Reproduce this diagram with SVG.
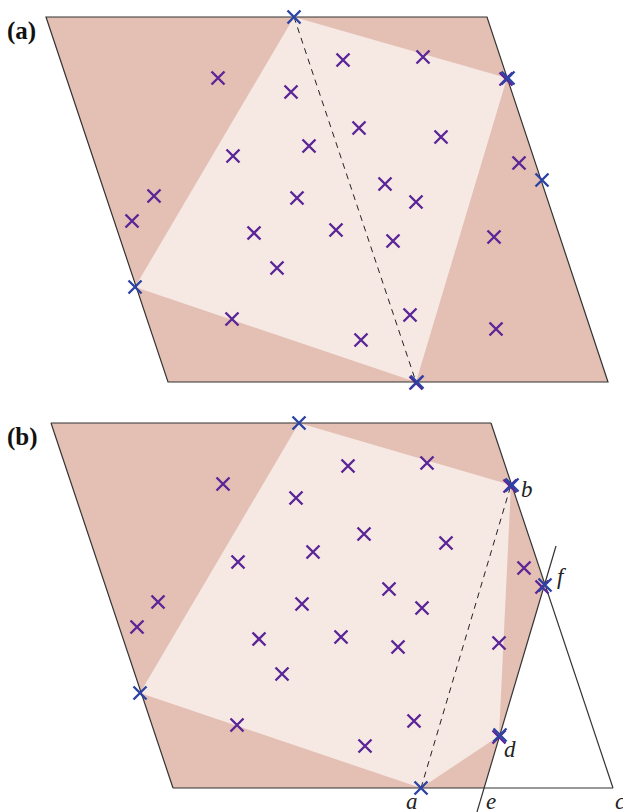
<svg xmlns="http://www.w3.org/2000/svg" xmlns:xlink="http://www.w3.org/1999/xlink" width="623" height="812" viewBox="0 0 623 812">
<style>
.dark{fill:#e3bfb4;stroke:none}
.light{fill:#f6e8e3;stroke:none}
.edge{fill:none;stroke:#333;stroke-width:1.2}
.dash{fill:none;stroke:#222;stroke-width:1;stroke-dasharray:6,5}
.p{stroke:#5a2597;stroke-width:2.4;fill:none}
.b{stroke:#2c43a3;stroke-width:2.4;fill:none}
.lbl{font-family:"Liberation Serif",serif;font-weight:bold;font-size:25px;fill:#111}
.var{font-family:"Liberation Serif",serif;font-style:italic;font-size:23px;fill:#222}
</style>
<defs>
<path id="x" d="M-6.5,-6.5L6.5,6.5M-6.5,6.5L6.5,-6.5"/>
</defs>
<rect width="623" height="812" fill="#fff"/>

<g id="panel-a">
<polygon class="dark" points="46,17 487,17 608,382 168,382"/>
<polygon class="light" points="294,17 507,78 416,382 135,287"/>
<polygon class="edge" points="46,17 487,17 608,382 168,382"/>
<line class="dash" x1="294" y1="17" x2="416" y2="382"/>
<text class="lbl" x="7" y="39">(a)</text>
<g id="points-a">
<use xlink:href="#x" class="p" x="218" y="78"/>
<use xlink:href="#x" class="p" x="291" y="92"/>
<use xlink:href="#x" class="p" x="343" y="60"/>
<use xlink:href="#x" class="p" x="423" y="57"/>
<use xlink:href="#x" class="p" x="359" y="128"/>
<use xlink:href="#x" class="p" x="441" y="137"/>
<use xlink:href="#x" class="p" x="309" y="146"/>
<use xlink:href="#x" class="p" x="233" y="156"/>
<use xlink:href="#x" class="p" x="519" y="163"/>
<use xlink:href="#x" class="p" x="385" y="184"/>
<use xlink:href="#x" class="p" x="416" y="202"/>
<use xlink:href="#x" class="p" x="154" y="196"/>
<use xlink:href="#x" class="p" x="132" y="221"/>
<use xlink:href="#x" class="p" x="297" y="198"/>
<use xlink:href="#x" class="p" x="336" y="230"/>
<use xlink:href="#x" class="p" x="254" y="233"/>
<use xlink:href="#x" class="p" x="393" y="241"/>
<use xlink:href="#x" class="p" x="494" y="237"/>
<use xlink:href="#x" class="p" x="277" y="268"/>
<use xlink:href="#x" class="p" x="410" y="315"/>
<use xlink:href="#x" class="p" x="232" y="319"/>
<use xlink:href="#x" class="p" x="361" y="340"/>
<use xlink:href="#x" class="p" x="496" y="329"/>
<use xlink:href="#x" class="p" x="506" y="79"/>
<use xlink:href="#x" class="p" x="416" y="383"/>
<use xlink:href="#x" class="b" x="294" y="17"/>
<use xlink:href="#x" class="b" x="508" y="78"/>
<use xlink:href="#x" class="b" x="542" y="180"/>
<use xlink:href="#x" class="b" x="135" y="287"/>
<use xlink:href="#x" class="b" x="417" y="382"/>
</g>
</g>

<g id="panel-b">
<polygon class="dark" points="51,423 491,423 544.5,584 484,788 173,788"/>
<polygon class="light" points="299,423 511,485 499,736 421,788 140,693"/>
<g id="connectors">
<line class="edge" x1="51" y1="423" x2="491" y2="423"/>
<line class="edge" x1="51" y1="423" x2="173" y2="788"/>
<line class="edge" x1="491" y1="423" x2="613" y2="788"/>
<line class="edge" x1="173" y1="788" x2="613" y2="788"/>
<line class="edge" x1="556" y1="546" x2="477" y2="812"/>
<line class="dash" x1="421" y1="788" x2="511" y2="485"/>
</g>
<text class="lbl" x="7" y="445">(b)</text>
<g id="points-b">
<use xlink:href="#x" class="p" x="223" y="484"/>
<use xlink:href="#x" class="p" x="296" y="498"/>
<use xlink:href="#x" class="p" x="348" y="466"/>
<use xlink:href="#x" class="p" x="427" y="463"/>
<use xlink:href="#x" class="p" x="364" y="534"/>
<use xlink:href="#x" class="p" x="446" y="543"/>
<use xlink:href="#x" class="p" x="313" y="552"/>
<use xlink:href="#x" class="p" x="238" y="562"/>
<use xlink:href="#x" class="p" x="524" y="568"/>
<use xlink:href="#x" class="p" x="389" y="589"/>
<use xlink:href="#x" class="p" x="422" y="608"/>
<use xlink:href="#x" class="p" x="158" y="602"/>
<use xlink:href="#x" class="p" x="137" y="627"/>
<use xlink:href="#x" class="p" x="302" y="604"/>
<use xlink:href="#x" class="p" x="341" y="637"/>
<use xlink:href="#x" class="p" x="259" y="639"/>
<use xlink:href="#x" class="p" x="398" y="647"/>
<use xlink:href="#x" class="p" x="499" y="643"/>
<use xlink:href="#x" class="p" x="282" y="674"/>
<use xlink:href="#x" class="p" x="414" y="721"/>
<use xlink:href="#x" class="p" x="237" y="725"/>
<use xlink:href="#x" class="p" x="365" y="746"/>
<use xlink:href="#x" class="p" x="510" y="486"/>
<use xlink:href="#x" class="p" x="542" y="587"/>
<use xlink:href="#x" class="p" x="499" y="737"/>
<use xlink:href="#x" class="b" x="299" y="423"/>
<use xlink:href="#x" class="b" x="512" y="485"/>
<use xlink:href="#x" class="b" x="545" y="585"/>
<use xlink:href="#x" class="b" x="140" y="693"/>
<use xlink:href="#x" class="b" x="500" y="735"/>
<use xlink:href="#x" class="b" x="421" y="788"/>
</g>
<text class="var" x="521" y="497">b</text>
<text class="var" x="557" y="584">f</text>
<text class="var" x="504" y="757">d</text>
<text class="var" x="406" y="809">a</text>
<text class="var" x="486" y="809">e</text>
<text class="var" x="615" y="809">c</text>
</g>
</svg>
